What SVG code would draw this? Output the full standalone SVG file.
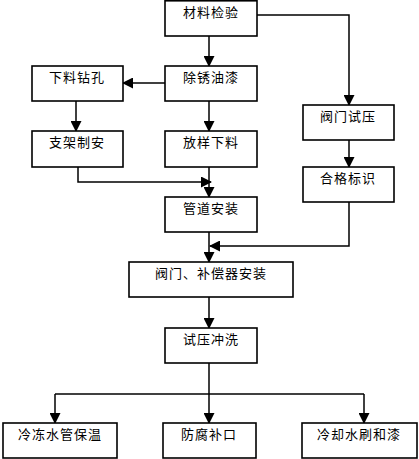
<svg xmlns="http://www.w3.org/2000/svg" width="419" height="459" viewBox="0 0 419 459">
<style>
.box{fill:#fff;stroke:#000;stroke-width:1.6}
.t{font-family:"Noto Sans CJK SC","Noto Sans CJK JP",sans-serif;font-size:13px;letter-spacing:1px;fill:#000;text-anchor:middle}
.c{fill:none;stroke:#000;stroke-width:1.5}
</style>
<defs>
<marker id="a" markerUnits="userSpaceOnUse" markerWidth="11" markerHeight="11" refX="10" refY="5.5" orient="auto" viewBox="0 0 11 11">
<path d="M0,0 L11,5.5 L0,11 z" fill="#000"/>
</marker>
</defs>
<rect width="419" height="459" fill="#fff"/>
<g id="connectors">
<path class="c" d="M209,36 V66" marker-end="url(#a)"/>
<path class="c" d="M257,15 H349 V105" marker-end="url(#a)"/>
<path class="c" d="M165,83 H123" marker-end="url(#a)"/>
<path class="c" d="M76,101 V131" marker-end="url(#a)"/>
<path class="c" d="M209,101 V131" marker-end="url(#a)"/>
<path class="c" d="M349,140 V167" marker-end="url(#a)"/>
<path class="c" d="M78,167 V182 H211" marker-end="url(#a)"/>
<path class="c" d="M209,167 V197" marker-end="url(#a)"/>
<path class="c" d="M209,232 V262" marker-end="url(#a)"/>
<path class="c" d="M349,202 V246 H210" marker-end="url(#a)"/>
<path class="c" d="M209,297 V328" marker-end="url(#a)"/>
<path class="c" d="M209,363 V423" marker-end="url(#a)"/>
<path class="c" d="M55,394 H364"/>
<path class="c" d="M55,394 V423" marker-end="url(#a)"/>
<path class="c" d="M364,394 V423" marker-end="url(#a)"/>
</g>
<g id="n1"><rect class="box" x="165" y="0.8" width="92" height="35.2"/><text class="t" x="211" y="17">材料检验</text></g>
<g id="n2"><rect class="box" x="165" y="66" width="92" height="35"/><text class="t" x="211" y="82">除锈油漆</text></g>
<g id="n3"><rect class="box" x="32" y="66" width="91" height="35"/><text class="t" x="77" y="82">下料钻孔</text></g>
<g id="n4"><rect class="box" x="32" y="131" width="91" height="36"/><text class="t" x="77" y="147">支架制安</text></g>
<g id="n5"><rect class="box" x="165" y="131" width="92" height="36"/><text class="t" x="211" y="147">放样下料</text></g>
<g id="n6"><rect class="box" x="303" y="105" width="91" height="35"/><text class="t" x="348" y="121">阀门试压</text></g>
<g id="n7"><rect class="box" x="303" y="167" width="91" height="35"/><text class="t" x="348" y="183">合格标识</text></g>
<g id="n8"><rect class="box" x="165" y="197" width="92" height="35"/><text class="t" x="211" y="213">管道安装</text></g>
<g id="n9"><rect class="box" x="129" y="262" width="164" height="35"/><text class="t" x="211" y="278">阀门、补偿器安装</text></g>
<g id="n10"><rect class="box" x="165" y="328" width="92" height="35"/><text class="t" x="211" y="344">试压冲洗</text></g>
<g id="n11"><rect class="box" x="3" y="423" width="114" height="35"/><text class="t" x="60" y="439">冷冻水管保温</text></g>
<g id="n12"><rect class="box" x="163" y="423" width="93" height="35"/><text class="t" x="209" y="439">防腐补口</text></g>
<g id="n13"><rect class="box" x="302" y="423" width="115" height="35"/><text class="t" x="359" y="439">冷却水刷和漆</text></g>
</svg>
